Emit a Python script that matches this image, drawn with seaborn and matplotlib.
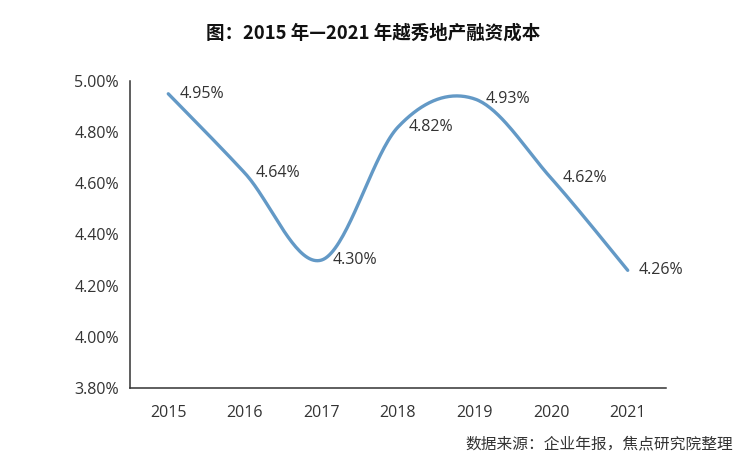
import numpy as np
import pandas as pd
import seaborn as sns
import matplotlib.pyplot as plt
from matplotlib.ticker import FuncFormatter

# 数据
years = ["2015", "2016", "2017", "2018", "2019", "2020", "2021"]
rates = [4.95, 4.64, 4.30, 4.82, 4.93, 4.62, 4.26]
title = "图：2015 年—2021 年越秀地产融资成本"
source = "数据来源：企业年报，焦点研究院整理"

sns.set_style("white")
plt.rcParams['font.family'] = ['Open Sans', 'Noto Sans CJK SC', 'DejaVu Sans']
cjk = ['Noto Sans CJK SC', 'DejaVu Sans']

# 平滑曲线 (Excel 式平滑, 控制点 1/6)
def smooth(y, n=40):
    x = np.arange(len(y), dtype=float)
    y = np.asarray(y, dtype=float)
    px, py = [], []
    for i in range(len(y) - 1):
        i0 = max(i - 1, 0)
        i3 = min(i + 2, len(y) - 1)
        c1x = x[i] + (x[i + 1] - x[i0]) / 6
        c1y = y[i] + (y[i + 1] - y[i0]) / 6
        c2x = x[i + 1] - (x[i3] - x[i]) / 6
        c2y = y[i + 1] - (y[i3] - y[i]) / 6
        t = np.linspace(0, 1, n)
        bx = (1-t)**3*x[i] + 3*(1-t)**2*t*c1x + 3*(1-t)*t**2*c2x + t**3*x[i+1]
        by = (1-t)**3*y[i] + 3*(1-t)**2*t*c1y + 3*(1-t)*t**2*c2y + t**3*y[i+1]
        px.extend(bx)
        py.extend(by)
    return np.array(px), np.array(py)

sx, sy = smooth(rates)
df = pd.DataFrame({"x": sx, "y": sy})

fig = plt.figure(figsize=(7.4, 4.7), dpi=100)
ax = fig.add_axes([130/740, 1 - 388/470, (666-130)/740, (388-81)/470])

sns.lineplot(data=df, x="x", y="y", ax=ax, color="#6399c6", linewidth=2.4,
             sort=False, estimator=None)

for i, v in enumerate(rates):
    ax.annotate(f"{v:.2f}%", (i, v), xytext=(8, 0), textcoords="offset points",
                ha="left", va="center", fontsize=11.5, color="#333333")

ax.set_xlim(-0.5, len(years) - 0.5)
ax.set_ylim(3.8, 5.0)
ax.set_yticks(np.arange(3.8, 5.01, 0.2))
ax.yaxis.set_major_formatter(FuncFormatter(lambda v, p: f"{v:.2f}%"))
ax.set_xticks(range(len(years)))
ax.set_xticklabels(years)
ax.set_xticks(np.arange(-0.5, len(years), 1), minor=True)
ax.tick_params(axis="x", which="major", length=0, pad=12)
ax.tick_params(axis="x", which="minor", length=5, direction="out", width=1, color="#333333")
ax.tick_params(axis="y", length=5, direction="out", width=1, color="#333333", pad=3)
ax.tick_params(labelsize=11.5, labelcolor="#333333")
ax.set_xlabel("")
ax.set_ylabel("")
sns.despine(ax=ax)
for s in ["left", "bottom"]:
    ax.spines[s].set_color("#333333")
    ax.spines[s].set_linewidth(1.1)

fig.text(373/740, 1 - 33/470, title, ha="center", va="center",
         fontsize=13.3, fontweight="bold", color="#111111", family=cjk)
fig.text(733/740, 1 - 444/470, source, ha="right", va="center",
         fontsize=11.3, color="#333333", family=cjk)

fig.savefig("out.png", dpi=100)
